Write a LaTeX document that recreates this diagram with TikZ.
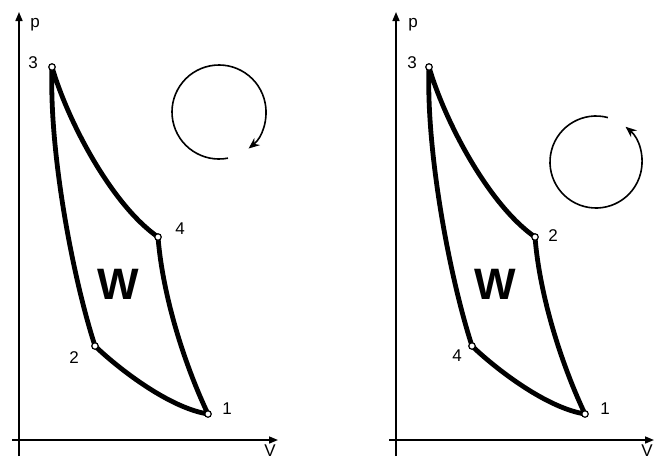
\documentclass[tikz,border=0pt]{standalone}
\usepackage{fontspec}
\setmainfont{Liberation Sans}
\usetikzlibrary{arrows.meta, backgrounds}

\begin{document}
\begin{tikzpicture}[
    x=1pt, y=-1pt,
    pt/.style={circle, draw, fill=white, line width=1.2pt, inner sep=0pt, minimum size=6.5pt},
    lbl/.style={inner sep=0pt, font=\fontsize{17}{17}\selectfont},
    big/.style={inner sep=0pt, font=\fontsize{44}{44}\selectfont\bfseries},
    axis/.style={line width=1.6pt, -{Triangle[length=9pt, width=7pt]}},
    cyc/.style={line width=4.8pt, line join=round, line cap=round},
    rot/.style={line width=1.6pt, -{Stealth[length=11pt, width=9pt]}}
]
\useasboundingbox (0,0) rectangle (656,461);

% Left diagram: axes
\coordinate (ay0) at (19,456);
\coordinate (ay1) at (19,12);
\coordinate (ax0) at (12,440);
\coordinate (ax1) at (278,440);
\draw[axis] (ay0) -- (ay1);
\draw[axis] (ax0) -- (ax1);
\node[lbl] (ap) at (35,25) {p};
\node[lbl] (av) at (270,451) {V};

% Left diagram: cycle
\node[pt] (a3) at (52,67) {};
\node[pt] (a4) at (158,237) {};
\node[pt] (a1) at (208,414) {};
\node[pt] (a2) at (95,346) {};
\begin{scope}[on background layer]
\draw[cyc] (a3.center) .. controls +(16,55) and +(-46,-32) .. (a4.center)
    .. controls +(5,63) and +(-21,-44) .. (a1.center)
    .. controls +(-38,-6) and +(25,24) .. (a2.center)
    .. controls +(-23,-71) and +(-3,83) .. (a3.center);
\end{scope}
\node[lbl] (al3) at (33,63)  {3};
\node[lbl] (al4) at (180,229) {4};
\node[lbl] (al1) at (227,409) {1};
\node[lbl] (al2) at (74,358) {2};
\node[big] (aw) at (118.5,284) {W};

% Left diagram: direction (clockwise)
\coordinate (arot) at (219,112);
\draw[rot] (arot) ++(79:47) arc[start angle=79, end angle=411, radius=47];

% Right diagram: axes
\coordinate (by0) at (396,456);
\coordinate (by1) at (396,12);
\coordinate (bx0) at (389,440);
\coordinate (bx1) at (654,440);
\draw[axis] (by0) -- (by1);
\draw[axis] (bx0) -- (bx1);
\node[lbl] (bp) at (413,25) {p};
\node[lbl] (bv) at (647,451) {V};

% Right diagram: cycle
\node[pt] (b3) at (429,67) {};
\node[pt] (b2) at (535,237) {};
\node[pt] (b1) at (585,414) {};
\node[pt] (b4) at (472,346) {};
\begin{scope}[on background layer]
\draw[cyc] (b3.center) .. controls +(16,55) and +(-46,-32) .. (b2.center)
    .. controls +(5,63) and +(-21,-44) .. (b1.center)
    .. controls +(-38,-6) and +(25,24) .. (b4.center)
    .. controls +(-23,-71) and +(-3,83) .. (b3.center);
\end{scope}
\node[lbl] (bl3) at (412,63)  {3};
\node[lbl] (bl2) at (553,236) {2};
\node[lbl] (bl1) at (605,409) {1};
\node[lbl] (bl4) at (457,356) {4};
\node[big] (bw) at (495.5,284) {W};

% Right diagram: direction (counterclockwise)
\coordinate (brot) at (596,162);
\draw[rot] (brot) ++(-75:46) arc[start angle=-75, end angle=-410, radius=46];
\end{tikzpicture}
\end{document}
